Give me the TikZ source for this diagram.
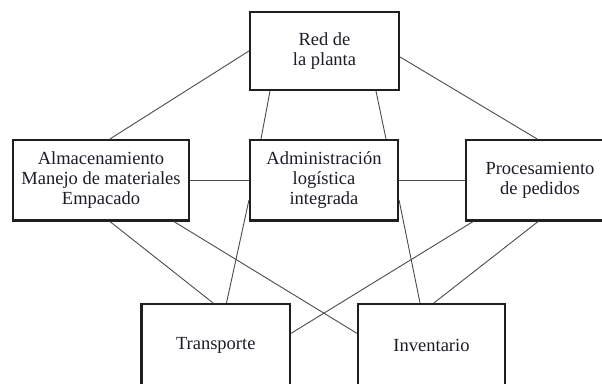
\documentclass[tikz,border=0pt]{standalone}
\usepackage{fontspec}
\setmainfont{Liberation Serif}
\definecolor{txt}{RGB}{28,28,40}
\definecolor{lin}{RGB}{75,75,75}
\begin{document}
\begin{tikzpicture}[x=1pt,y=-1pt,
  caja/.style={draw=black!88, line width=2.2pt, rectangle, align=center, text=txt,
    font=\fontsize{18.5}{20}\selectfont, inner sep=0pt},
  enlace/.style={lin, line width=0.9pt}]
\useasboundingbox (0,0) rectangle (602,383);

\node[caja, minimum width=149pt, minimum height=78pt] (planta) at (324.5,51) {Red de\\la planta};
\node[caja, minimum width=176pt, minimum height=80.5pt] (alm) at (101,180.25) {Almacenamiento\\Manejo de materiales\\Empacado};
\node[caja, minimum width=148pt, minimum height=80.5pt] (adm) at (324,180.25) {Administración\\logística\\integrada};
\node[caja, minimum width=148pt, minimum height=80.5pt] (proc) at (540,180.25) {Procesamiento\\de pedidos};
\node[caja, minimum width=148.5pt, minimum height=82pt] (transp) at (215.75,345) {Transporte};
\node[caja, minimum width=147pt, minimum height=82pt] (inv) at (431.5,345) {Inventario};

\draw[enlace] (planta.west)--([xshift=9pt]alm.north);
\draw[enlace] ([yshift=-6pt]planta.east)--([xshift=-3pt]proc.north);
\draw[enlace] ([xshift=-54.5pt]planta.south)--([xshift=-63pt]adm.north);
\draw[enlace] ([xshift=51.5pt]planta.south)--([xshift=62pt]adm.north);
\draw[enlace] (alm.east)--(adm.west);
\draw[enlace] (adm.east)--(proc.west);
\draw[enlace] ([xshift=9pt]alm.south)--([xshift=-2.75pt]transp.north);
\draw[enlace] ([xshift=73pt]alm.south)--([yshift=11.7pt]inv.west);
\draw[enlace] ([yshift=-20pt]adm.west)--([xshift=10.75pt]transp.north);
\draw[enlace] ([yshift=-20pt]adm.east)--([xshift=-11.5pt]inv.north);
\draw[enlace] ([xshift=-67pt]proc.south)--([yshift=11.7pt]transp.east);
\draw[enlace] ([xshift=-2pt]proc.south)--([xshift=2.5pt]inv.north);

\end{tikzpicture}
\end{document}
